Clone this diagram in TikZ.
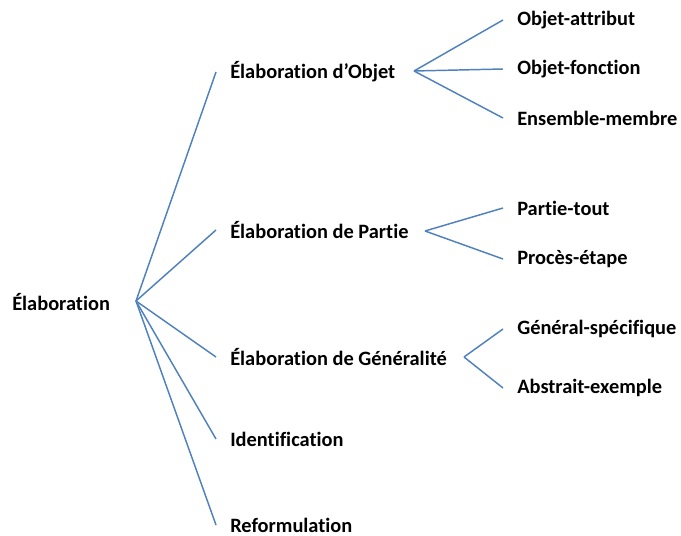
\documentclass[tikz,border=0pt]{standalone}
\usepackage{fontspec}
\setmainfont{Carlito}[Ligatures=NoCommon]
\usepackage{tikz}
\definecolor{linkblue}{HTML}{4F81BD}

\begin{document}
\begin{tikzpicture}[x=0.75pt, y=-0.75pt,
    term/.style={anchor=west, inner xsep=10.5pt, inner ysep=0pt, font=\fontsize{15.3}{18}\selectfont\bfseries},
    branch/.style={draw=linkblue, line width=1.1pt}
]
    \useasboundingbox (0,0) rectangle (681,535);

    % Nodes
    \node[term, inner xsep=0pt] (elab) at (12,302) {Élaboration};
    \node[term] (objet) at (216,72) {Élaboration d’Objet};
    \node[term] (partie) at (216,230) {Élaboration de Partie};
    \node[term] (general) at (216,357) {Élaboration de Généralité};
    \node[term] (ident) at (216,439) {Identification};
    \node[term] (reform) at (216,525) {Reformulation};

    \node[term] (attribut) at (503,20) {Objet-attribut};
    \node[term] (fonction) at (503,69) {Objet-fonction};
    \node[term] (membre) at (503,118) {Ensemble-membre};
    \node[term] (tout) at (503,208) {Partie-tout};
    \node[term] (etape) at (503,259) {Procès-étape};
    \node[term] (specif) at (503,329) {Général-spécifique};
    \node[term] (exemple) at (503,388) {Abstrait-exemple};

    % Hubs
    \coordinate (elabhub) at (136,301);
    \coordinate (objethub) at (414,71);
    \coordinate (partiehub) at (425,231);
    \coordinate (generalhub) at (464,357);

    % Branches
    \foreach \child in {objet, partie, general, ident, reform}
        \draw[branch] (elabhub) -- (\child.west);
    \foreach \child in {attribut, fonction, membre}
        \draw[branch] (objethub) -- (\child.west);
    \foreach \child in {tout, etape}
        \draw[branch] (partiehub) -- (\child.west);
    \foreach \child in {specif, exemple}
        \draw[branch] (generalhub) -- (\child.west);
\end{tikzpicture}
\end{document}
